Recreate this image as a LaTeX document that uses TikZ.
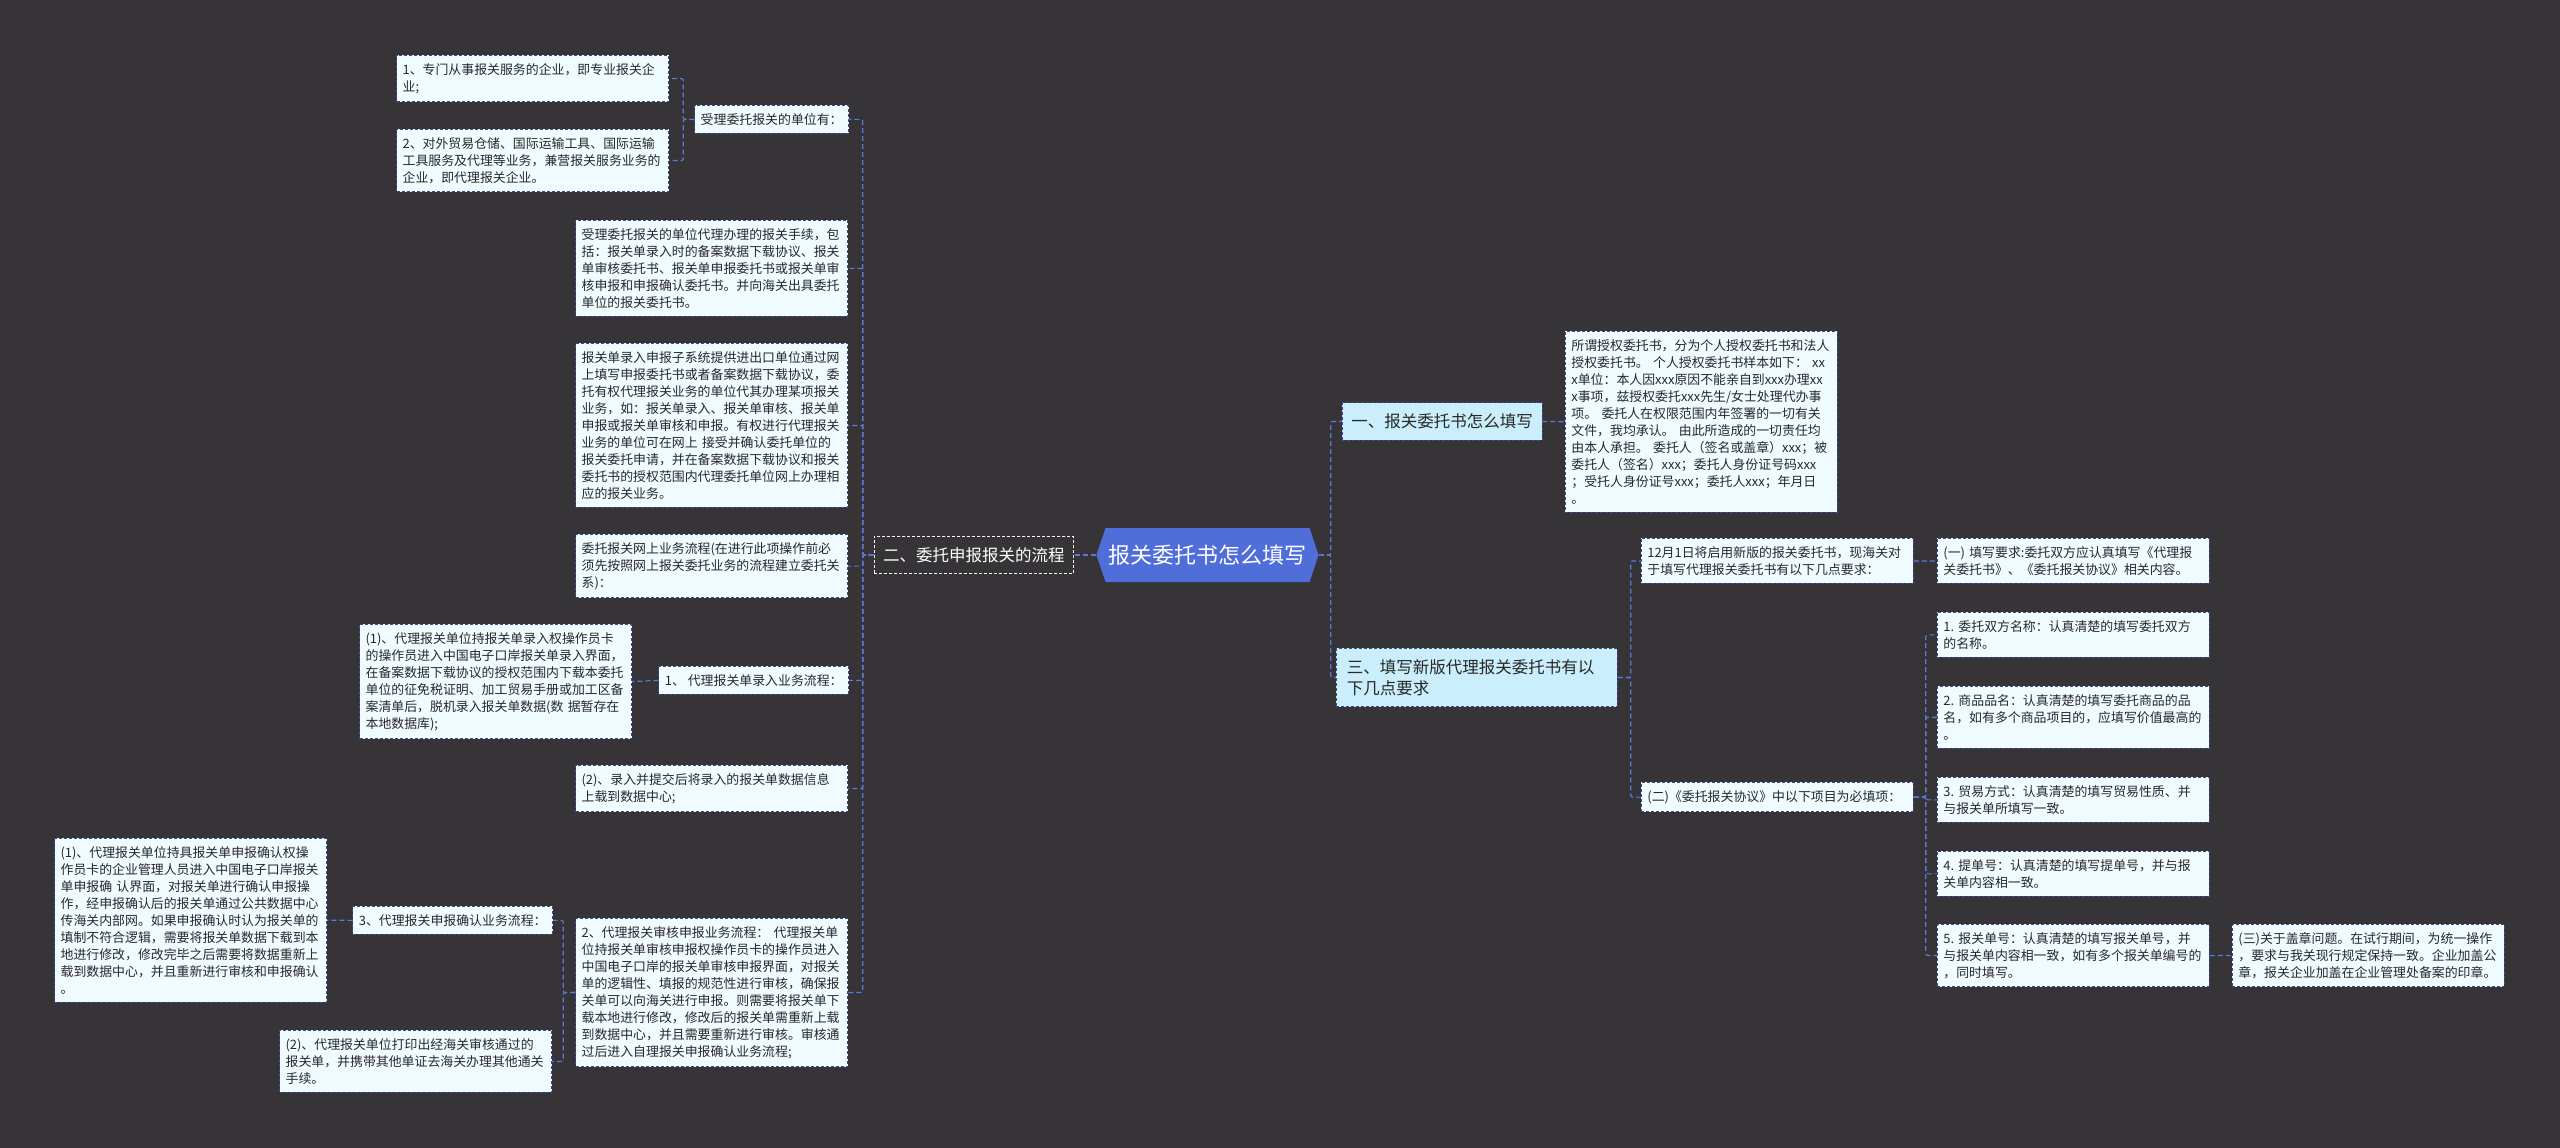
\documentclass[tikz,border=0pt]{standalone}
\usepackage{fontspec}
\setmainfont{Noto Sans CJK SC}
\usetikzlibrary{shapes.symbols}
\definecolor{bgdark}{RGB}{54,52,55}
\definecolor{rootblue}{RGB}{80,110,218}
\definecolor{linkblue}{RGB}{92,122,214}
\definecolor{boxfill}{RGB}{240,251,255}
\definecolor{boxline}{RGB}{62,72,140}
\definecolor{topicfill}{RGB}{202,238,251}
\definecolor{inkgray}{RGB}{40,40,40}

\begin{document}
\begin{tikzpicture}[x=1pt, y=-1pt,
        card/.style={draw=boxline, dash pattern=on 3pt off 2pt, line width=0.8pt, fill=boxfill,
            text=inkgray, align=left, inner xsep=6pt, inner ysep=8pt,
            font=\fontsize{12.9}{17}\selectfont},
        leaf/.style={card, text width=260pt},
        topic/.style={draw=boxline, dash pattern=on 3pt off 2pt, line width=0.8pt, fill=topicfill,
            text=inkgray, align=left, inner xsep=9pt, inner ysep=11pt,
            font=\fontsize{16.5}{21}\selectfont},
        darktopic/.style={topic, fill=bgdark, draw=white!75, text=white},
        rootnode/.style={signal, signal to=west and east, signal pointer angle=143,
            fill=rootblue, text=white, minimum height=54pt, inner xsep=3pt,
            font=\fontsize{22}{26}\selectfont},
        link/.style={draw=linkblue, line width=1.2pt, dash pattern=on 5pt off 3pt, rounded corners=2pt}]

    \fill[bgdark] (0,0) rectangle (2560,1148);
    \useasboundingbox (0,0) rectangle (2560,1148);

    % centre
    \node[rootnode] (root) at (1207.5,555) {报关委托书怎么填写};

    % right side
    \node[topic, anchor=west] (fill1) at (1342,421.5) {一、报关委托书怎么填写};
    \node[leaf, anchor=north west] (sample) at (1565,331) {所谓授权委托书，分为个人授权委托书和法人\\授权委托书。~个人授权委托书样本如下：~xx\\x单位：本人因xxx原因不能亲自到xxx办理xx\\x事项，兹授权委托xxx先生/女士处理代办事\\项。~委托人在权限范围内年签署的一切有关\\文件，我均承认。~由此所造成的一切责任均\\由本人承担。~委托人（签名或盖章）xxx；被\\委托人（签名）xxx；委托人身份证号码xxx\\；受托人身份证号xxx；委托人xxx；年月日\\。};

    \node[topic, anchor=west, text width=260pt, inner xsep=10.5pt] (fill3) at (1336,677.5) {三、填写新版代理报关委托书有以\\下几点要求};
    \node[leaf, anchor=north west] (newform) at (1641,538) {12月1日将启用新版的报关委托书，现海关对\\于填写代理报关委托书有以下几点要求：};
    \node[leaf, anchor=north west] (reqa) at (1937,538) {(一)~填写要求:委托双方应认真填写《代理报\\关委托书》、《委托报关协议》相关内容。};
    \node[leaf, anchor=north west] (reqb) at (1641,782) {(二)《委托报关协议》中以下项目为必填项：};
    \node[leaf, anchor=north west] (item1) at (1937,612) {1.~委托双方名称：认真清楚的填写委托双方\\的名称。};
    \node[leaf, anchor=north west] (item2) at (1937,686) {2.~商品品名：认真清楚的填写委托商品的品\\名，如有多个商品项目的，应填写价值最高的\\。};
    \node[leaf, anchor=north west] (item3) at (1937,777) {3.~贸易方式：认真清楚的填写贸易性质、并\\与报关单所填写一致。};
    \node[leaf, anchor=north west] (item4) at (1937,851) {4.~提单号：认真清楚的填写提单号，并与报\\关单内容相一致。};
    \node[leaf, anchor=north west] (item5) at (1937,924) {5.~报关单号：认真清楚的填写报关单号，并\\与报关单内容相一致，如有多个报关单编号的\\，同时填写。};
    \node[leaf, anchor=north west] (reqc) at (2232,924) {(三)关于盖章问题。在试行期间，为统一操作\\，要求与我关现行规定保持一致。企业加盖公\\章，报关企业加盖在企业管理处备案的印章。};

    % left side
    \node[darktopic, anchor=east] (fill2) at (1074,555) {二、委托申报报关的流程};
    \node[card, anchor=north east] (units) at (849,105) {受理委托报关的单位有：};
    \node[leaf, anchor=north east] (unita) at (669,55) {1、专门从事报关服务的企业，即专业报关企\\业;};
    \node[leaf, anchor=north east] (unitb) at (669,129) {2、对外贸易仓储、国际运输工具、国际运输\\工具服务及代理等业务，兼营报关服务业务的\\企业，即代理报关企业。};
    \node[leaf, anchor=north east] (proxy) at (848,220) {受理委托报关的单位代理办理的报关手续，包\\括：报关单录入时的备案数据下载协议、报关\\单审核委托书、报关单申报委托书或报关单审\\核申报和申报确认委托书。并向海关出具委托\\单位的报关委托书。};
    \node[leaf, anchor=north east] (subsys) at (848,343) {报关单录入申报子系统提供进出口单位通过网\\上填写申报委托书或者备案数据下载协议，委\\托有权代理报关业务的单位代其办理某项报关\\业务，如：报关单录入、报关单审核、报关单\\申报或报关单审核和申报。有权进行代理报关\\业务的单位可在网上~接受并确认委托单位的\\报关委托申请，并在备案数据下载协议和报关\\委托书的授权范围内代理委托单位网上办理相\\应的报关业务。};
    \node[leaf, anchor=north east] (online) at (848,534) {委托报关网上业务流程(在进行此项操作前必\\须先按照网上报关委托业务的流程建立委托关\\系)：};
    \node[card, anchor=north east] (entry) at (849,666) {1、~代理报关单录入业务流程：};
    \node[leaf, anchor=north east] (entrya) at (632,624) {(1)、代理报关单位持报关单录入权操作员卡\\的操作员进入中国电子口岸报关单录入界面，\\在备案数据下载协议的授权范围内下载本委托\\单位的征免税证明、加工贸易手册或加工区备\\案清单后，脱机录入报关单数据(数~据暂存在\\本地数据库);};
    \node[leaf, anchor=north east] (upload) at (848,765) {(2)、录入并提交后将录入的报关单数据信息\\上载到数据中心;};
    \node[leaf, anchor=north east] (audit) at (848,918) {2、代理报关审核申报业务流程：~代理报关单\\位持报关单审核申报权操作员卡的操作员进入\\中国电子口岸的报关单审核申报界面，对报关\\单的逻辑性、填报的规范性进行审核，确保报\\关单可以向海关进行申报。则需要将报关单下\\载本地进行修改，修改后的报关单需重新上载\\到数据中心，并且需要重新进行审核。审核通\\过后进入自理报关申报确认业务流程;};
    \node[card, anchor=north east] (confirm) at (553,906) {3、代理报关申报确认业务流程：};
    \node[leaf, anchor=north east] (confirma) at (327,838) {(1)、代理报关单位持具报关单申报确认权操\\作员卡的企业管理人员进入中国电子口岸报关\\单申报确~认界面，对报关单进行确认申报操\\作，经申报确认后的报关单通过公共数据中心\\传海关内部网。如果申报确认时认为报关单的\\填制不符合逻辑，需要将报关单数据下载到本\\地进行修改，修改完毕之后需要将数据重新上\\载到数据中心，并且重新进行审核和申报确认\\。};
    \node[leaf, anchor=north east] (print) at (552,1030) {(2)、代理报关单位打印出经海关审核通过的\\报关单，并携带其他单证去海关办理其他通关\\手续。};

    % connectors
    \draw[link] (root.east) -- ++(12,0) |- (fill1.west);
    \draw[link] (root.east) -- ++(12,0) |- (fill3.west);
    \draw[link] (fill1.east) -- (sample.west);
    \draw[link] (fill3.east) -- ++(13,0) |- (newform.west);
    \draw[link] (fill3.east) -- ++(13,0) |- (reqb.west);
    \draw[link] (newform.east) -- (reqa.west);
    \foreach \n in {item1,item2,item3,item4,item5}
        \draw[link] (reqb.east) -- ++(12,0) |- (\n.west);
    \draw[link] (item5.east) -- (reqc.west);

    \draw[link] (root.west) -- (fill2.east);
    \foreach \n in {units,proxy,subsys,online,entry,upload,audit}
        \draw[link] (fill2.west) -- ++(-11,0) |- (\n.east);
    \draw[link] (units.west) -- ++(-11,0) |- (unita.east);
    \draw[link] (units.west) -- ++(-11,0) |- (unitb.east);
    \draw[link] (entry.west) -- (entrya.east);
    \draw[link] (audit.west) -- ++(-12,0) |- (confirm.east);
    \draw[link] (audit.west) -- ++(-12,0) |- (print.east);
    \draw[link] (confirm.west) -- (confirma.east);
\end{tikzpicture}
\end{document}
